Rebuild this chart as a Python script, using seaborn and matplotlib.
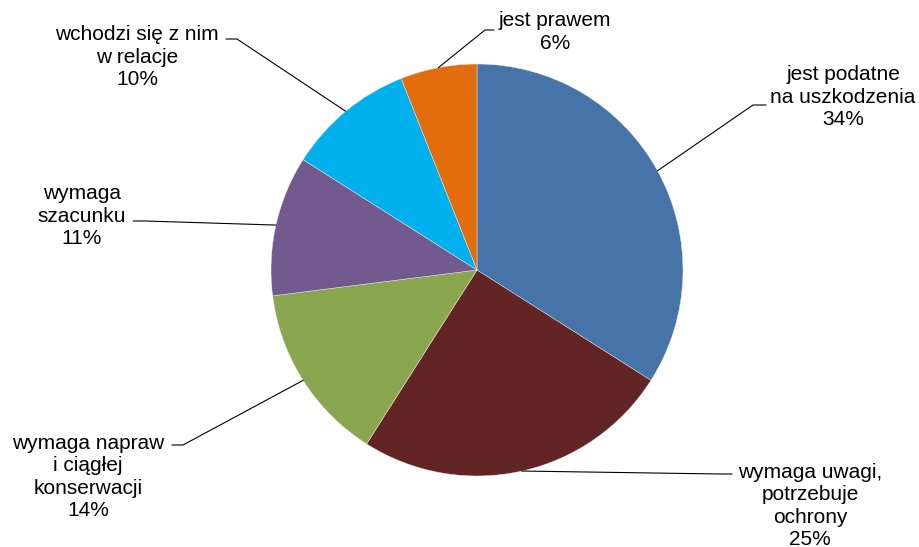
import numpy as np
import matplotlib.pyplot as plt
import seaborn as sns

# data
labels = ['jest podatne\nna uszkodzenia',
          'wymaga uwagi,\npotrzebuje\nochrony',
          'wymaga napraw\ni ciągłej\nkonserwacji',
          'wymaga\nszacunku',
          'wchodzi się z nim\nw relacje',
          'jest prawem']
shares = [34, 25, 14, 11, 10, 6]
colors = ['#4674A8', '#632523', '#8AA64F', '#725A8E', '#00B0EC', '#E36C0C']

# label layout in pixels (y from top): text centre, elbow, stub end
text_pos = [(843, 97), (810, 506), (88, 477), (82, 216), (137, 57), (555, 32)]
elbow_pos = [(753, 105), (720, 474), (183, 445), (145, 221), (237, 39), (485, 30)]
stub_end = [(766, 105), (732, 474), (172, 445), (133, 221), (226, 39), (494, 30)]

sns.set_theme(style='white')
plt.rcParams['font.family'] = ['Liberation Sans', 'DejaVu Sans']

W, H = 920, 547
fig = plt.figure(figsize=(W / 100, H / 100), dpi=100)
ax = fig.add_axes([0, 0, 1, 1])

cx, cy, r = 477, H - 270, 206
wedges, _ = ax.pie(shares, colors=colors, startangle=90, counterclock=False,
                   center=(cx, cy), radius=r,
                   wedgeprops=dict(linewidth=0.3, edgecolor='#f0f0f0'))
ax.set_xlim(0, W)
ax.set_ylim(0, H)
ax.set_aspect('equal')
ax.axis('off')

for w, lab, v, tp, bp, sp in zip(wedges, labels, shares, text_pos, elbow_pos, stub_end):
    mid = np.deg2rad((w.theta1 + w.theta2) / 2)
    wx, wy = cx + r * np.cos(mid), cy + r * np.sin(mid)
    ax.plot([wx, bp[0], sp[0]], [wy, H - bp[1], H - sp[1]], color='black', lw=0.8)
    ax.text(tp[0], H - tp[1], f'{lab}\n{v}%', ha='center', va='center',
            multialignment='center', fontsize=15, color='black', linespacing=1.22)

fig.savefig('out.png', dpi=100, facecolor='white')
